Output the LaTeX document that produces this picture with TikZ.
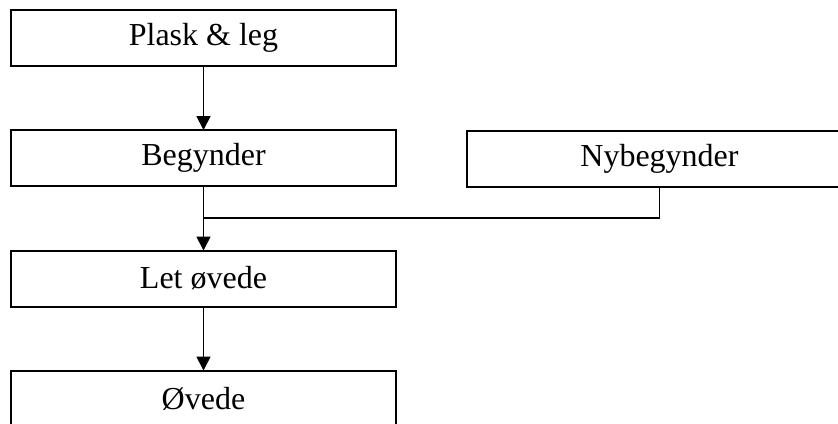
\documentclass[tikz,border=0pt]{standalone}
\usepackage{fontspec}
\setmainfont{Liberation Serif}
\usetikzlibrary{calc,arrows.meta}

\begin{document}
\begin{tikzpicture}[x=0.5pt,y=-0.5pt,every node/.style={draw,outer sep=0pt,line width=1pt}]

\tikzstyle{level}=[minimum width=192.5pt,minimum height=28pt,inner sep=0pt,font=\fontsize{16}{18}\selectfont]
\tikzstyle{flow}=[line width=0.9pt,-{Triangle[length=7pt,width=7pt]}]

\useasboundingbox (0,0) rectangle (838,423);
\clip (0,0) rectangle (838,423);

\node (plask) at (203.5,38) [level] {Plask \& leg};
\node (beg) at (203.5,158) [level] {Begynder};
\node (nybeg) at (659.5,158.5) [level] {Nybegynder};
\node (let) at (203.5,278.5) [level] {Let øvede};
\node (oev) at (203.5,398.5) [level] {Øvede};

% arrows
\draw[flow] (plask) -- (beg);
\draw[flow] (beg) -- (let);
\draw[flow] (let) -- (oev);

% side entry
\coordinate (join) at ($(beg.south)!.5!(let.north)$);
\draw[line width=0.9pt] (nybeg.south) |- (join);
\end{tikzpicture}
\end{document}
